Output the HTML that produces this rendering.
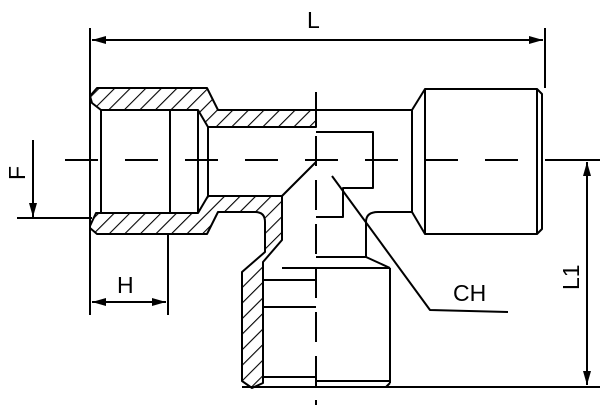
<!DOCTYPE html>
<html><head><meta charset="utf-8"><style>
html,body{margin:0;padding:0;background:#fff}
svg{display:block}
text{font-family:"Liberation Sans","DejaVu Sans",sans-serif;fill:#000}
</style></head><body>
<svg width="600" height="405" viewBox="0 0 600 405" xmlns="http://www.w3.org/2000/svg">
<defs>
<pattern id="h" patternUnits="userSpaceOnUse" width="11" height="11" patternTransform="rotate(45)">
<line x1="0" y1="0" x2="0" y2="11" stroke="#000" stroke-width="2.2"/>
</pattern>
<marker id="a" markerWidth="14" markerHeight="8" refX="14" refY="4" orient="auto" markerUnits="userSpaceOnUse">
<path d="M0,0 L14,4 L0,8 Z" fill="#000"/>
</marker>
</defs>
<g stroke="#000" stroke-width="2" fill="none" stroke-linejoin="round">
<path d="M90,96 L97,88 L207,88 L218,110 L316,110 L316,127 L208,127 L198,110 L101,110 L92,103 Z" fill="url(#h)"/>
<path d="M90,226 L96,213 L198,213 L208,196 L282,196 L282,240 L263,262 L263,383 L252,388 L242,381 L242,272 L265,252 L265,222 Q265,212 255,212 L218,212 L207,234 L97,234 L90,228 Z" fill="url(#h)"/>
<line x1="101" y1="110" x2="101" y2="213"/>
<line x1="170" y1="110" x2="170" y2="213"/>
<line x1="198" y1="110" x2="198" y2="213"/>
<line x1="208" y1="127" x2="208" y2="196"/>
<line x1="208" y1="127" x2="316" y2="127"/>
<line x1="208" y1="196" x2="282" y2="196"/>
<polyline points="316,132 373,132 373,188 343,188 343,217 316,217"/>
<line x1="316" y1="162" x2="282" y2="196"/>
<line x1="316" y1="110" x2="412" y2="110"/>
<line x1="412" y1="110" x2="412" y2="212"/>
<line x1="412" y1="110" x2="425" y2="89"/>
<line x1="412" y1="212" x2="425" y2="234"/>
<rect x="425" y="89" width="112" height="145"/>
<polyline points="537,89 542,94 542,229 537,234"/>
<path d="M366,257 L366,222 Q366,212 378,212 L412,212"/>
<line x1="282" y1="268" x2="390" y2="268"/>
<polyline points="316,257 366,257 390,268"/>
<line x1="390" y1="268" x2="390" y2="383"/>
<line x1="390" y1="383" x2="386" y2="387"/>
<line x1="242" y1="387" x2="600" y2="387"/>
<line x1="263" y1="280" x2="316" y2="280"/>
<line x1="263" y1="307" x2="316" y2="307"/>
<line x1="263" y1="377" x2="316" y2="377"/>
<line x1="316" y1="381" x2="390" y2="381"/>
<polyline points="332,176 430,310 508,312"/>
<line x1="65" y1="160" x2="545" y2="160" stroke-dasharray="33 27"/>
<line x1="545" y1="160" x2="600" y2="160"/>
<line x1="316" y1="92" x2="316" y2="405" stroke-dasharray="30 14"/>
<line x1="90" y1="28" x2="90" y2="315"/>
<line x1="545" y1="28" x2="545" y2="88"/>
<line x1="110" y1="40" x2="543" y2="40" marker-end="url(#a)"/>
<line x1="530" y1="40" x2="92" y2="40" marker-end="url(#a)"/>
<line x1="168" y1="234" x2="168" y2="315"/>
<line x1="130" y1="302" x2="92" y2="302" marker-end="url(#a)"/>
<line x1="128" y1="302" x2="166" y2="302" marker-end="url(#a)"/>
<line x1="33" y1="140" x2="33" y2="217" marker-end="url(#a)"/>
<line x1="17" y1="218" x2="92" y2="218"/>
<line x1="587" y1="270" x2="587" y2="162" marker-end="url(#a)"/>
<line x1="587" y1="270" x2="587" y2="385" marker-end="url(#a)"/>
</g>
<text x="307" y="28" font-size="23">L</text>
<text x="117" y="293" font-size="23">H</text>
<text x="453" y="301" font-size="23">CH</text>
<text x="0" y="0" font-size="23" transform="translate(25,180) rotate(-90)">F</text>
<text x="0" y="0" font-size="23" transform="translate(579,290) rotate(-90)">L1</text>
</svg>
</body></html>
